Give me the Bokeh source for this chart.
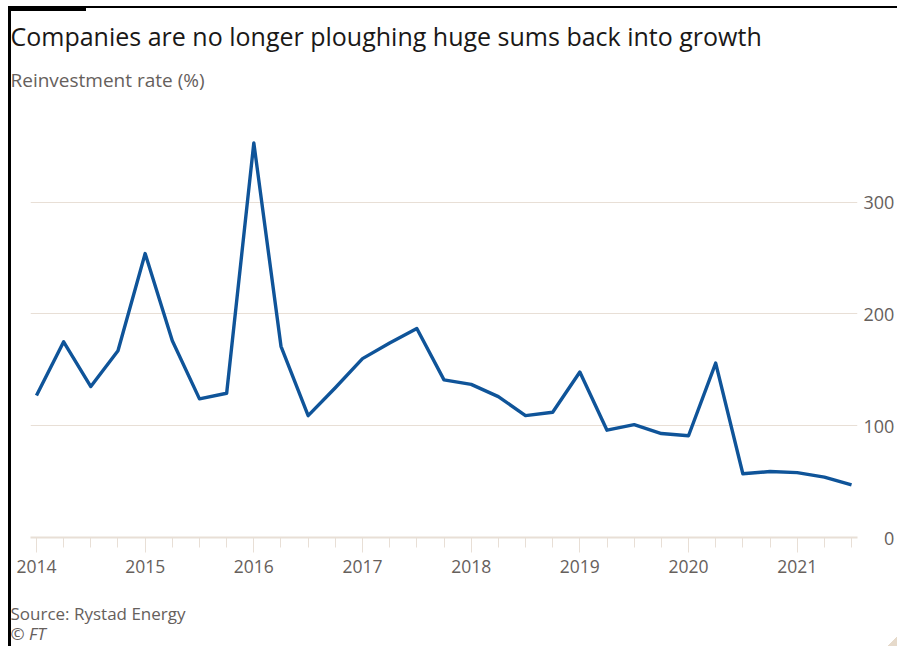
from bokeh.plotting import figure
from bokeh.models import Range1d, FixedTicker, LinearAxis, Title, ColumnDataSource
from bokeh.embed import file_html
from bokeh.resources import INLINE

# ---- data ----
years = [2014, 2015, 2016, 2017, 2018, 2019, 2020, 2021]
year_labels = ["2014", "2015", "2016", "2017", "2018", "2019", "2020", "2021"]
quarter_ticks = [y + q / 4 for y in years for q in range(4) if y + q / 4 <= 2021.5]
reinvestment_rate = [127, 175, 135, 167,
                     254, 176, 124, 129,
                     353, 171, 109, 134,
                     160, 174, 187, 141,
                     137, 126, 109, 112,
                     148, 96, 101, 93,
                     91, 156, 57, 59,
                     58, 54, 47]
quarters = quarter_ticks[:len(reinvestment_rate)]
y_ticks = [0, 100, 200, 300]
y_labels = ["\u2007\u20070", "100", "200", "300"]

title_text = "Companies are no longer ploughing huge sums back into growth"
subtitle_text = "Reinvestment rate (%)"
source_text = "Source: Rystad Energy"
credit_text = "\u00a9 FT"

FONT = "Open Sans"
GREY = "#66605c"
BEIGE = "#e8dfd6"
BLUE = "#0f5499"

W, H = 897, 646
FL, FR, FT, FB = 30, 862, 120, 537  # frame edges (px)

frame_css = (
    "linear-gradient(#000,#000) 8px 6px / 78px 5px no-repeat,"
    "linear-gradient(#000,#000) 8px 6px / 889px 2px no-repeat,"
    "linear-gradient(#000,#000) 8px 6px / 3px 640px no-repeat,"
    "linear-gradient(135deg, transparent 50%, #e6dacb 50%) 887px 636px / 10px 10px no-repeat,"
    "#ffffff"
)

p = figure(width=W, height=H, output_backend="svg", toolbar_location=None,
           x_range=Range1d(2013.945, 2021.555), y_range=Range1d(0, 373),
           x_axis_location="below", y_axis_location=None,
           min_border_left=FL, min_border_right=W - FR,
           min_border_top=FT, min_border_bottom=H - FB,
           styles={"background": frame_css})
p.outline_line_color = None
p.background_fill_color = "white"
p.border_fill_color = None

src = ColumnDataSource(dict(x=quarters, y=reinvestment_rate))
p.line("x", "y", source=src, line_color=BLUE, line_width=3.4, line_join="round")

# x axis
xa = p.xaxis[0]
xa.ticker = FixedTicker(ticks=years, minor_ticks=quarter_ticks)
xa.major_label_overrides = {y: l for y, l in zip(years, year_labels)}
xa.axis_line_color = BEIGE
xa.axis_line_width = 2
xa.major_tick_line_color = BEIGE
xa.minor_tick_line_color = BEIGE
xa.major_tick_in = 0
xa.major_tick_out = 15
xa.minor_tick_in = 0
xa.minor_tick_out = 10
xa.major_label_standoff = 7
xa.major_label_text_font = FONT
xa.major_label_text_font_size = "17.5px"
xa.major_label_text_color = GREY

# invisible spacer axis below the x axis (only adds vertical room)
spacer = LinearAxis(ticker=FixedTicker(ticks=[2017.75], minor_ticks=[]),
                    major_tick_out=20, major_tick_in=0, major_label_standoff=0,
                    axis_line_color=None, major_tick_line_color="white",
                    minor_tick_line_color=None, major_label_text_font_size="0px",
                    major_label_overrides={2017.75: ""})
p.add_layout(spacer, "below")

# y axis on right
ya = LinearAxis(ticker=FixedTicker(ticks=y_ticks))
ya.major_label_overrides = {t: l for t, l in zip(y_ticks, y_labels)}
ya.axis_line_color = None
ya.major_tick_line_color = None
ya.minor_tick_line_color = None
ya.major_tick_in = 0
ya.major_tick_out = 0
ya.major_label_standoff = 6
ya.major_label_text_font = FONT
ya.major_label_text_font_size = "18px"
ya.major_label_text_color = GREY
p.add_layout(ya, "right")

p.xgrid.grid_line_color = None
p.ygrid.ticker = FixedTicker(ticks=y_ticks)
p.ygrid.grid_line_color = BEIGE
p.ygrid.grid_line_width = 1

# texts as titles in the side panels
def ttl(text, side, size, color, standoff, style="normal"):
    p.add_layout(Title(text=text, align="left", offset=-20, standoff=standoff,
                       text_font=FONT, text_font_size=size, text_color=color,
                       text_font_style=style), side)

ttl(subtitle_text, "above", "19px", GREY, 55)
ttl(title_text, "above", "25px", "#1a1817", -30)
ttl(source_text, "below", "17px", GREY, 9)
ttl(credit_text, "below", "17px", GREY, -30, "italic")

open("out.html", "w").write(file_html(p, INLINE))
